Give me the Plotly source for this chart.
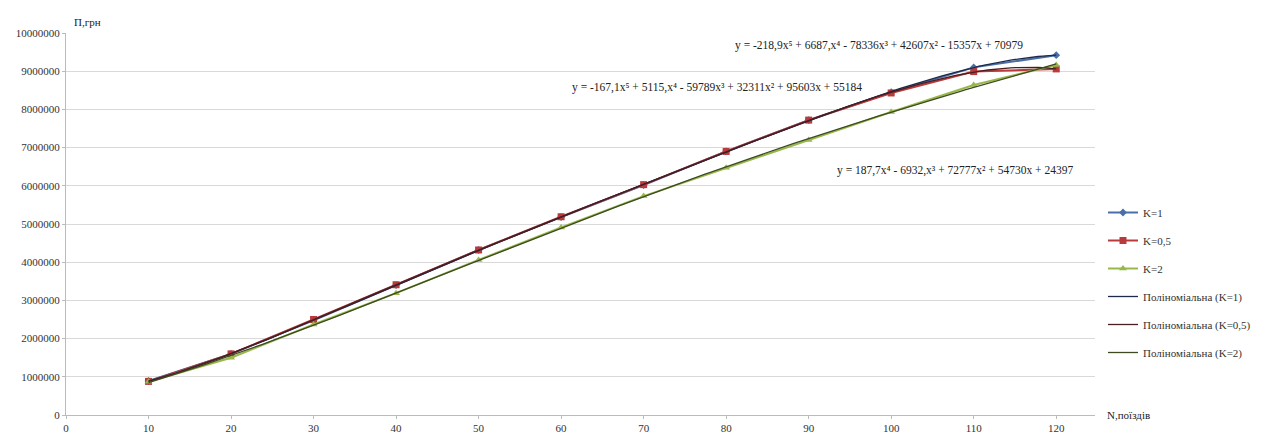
import numpy as np
import plotly.graph_objects as go

x_vals = [10, 20, 30, 40, 50, 60, 70, 80, 90, 100, 110, 120]
k1 = [890000, 1600000, 2480000, 3400000, 4320000, 5180000, 6020000, 6900000, 7720000, 8450000, 9100000, 9420000]
k05 = [880000, 1600000, 2500000, 3410000, 4320000, 5190000, 6030000, 6900000, 7720000, 8430000, 8990000, 9060000]
k2 = [870000, 1500000, 2370000, 3190000, 4060000, 4910000, 5730000, 6470000, 7200000, 7930000, 8640000, 9160000]

series_names = ["K=1", "K=0,5", "K=2"]
trend_names = ["Поліноміальна (K=1)", "Поліноміальна (K=0,5)", "Поліноміальна (K=2)"]
equations = [
    "y = -218,9x⁵ + 6687,x⁴ - 78336x³ + 42607x² - 15357x + 70979",
    "y = -167,1x⁵ + 5115,x⁴ - 59789x³ + 32311x² + 95603x + 55184",
    "y = 187,7x⁴ - 6932,x³ + 72777x² + 54730x + 24397",
]
x_ticks = [0, 10, 20, 30, 40, 50, 60, 70, 80, 90, 100, 110, 120]
y_ticks = [0, 1000000, 2000000, 3000000, 4000000, 5000000, 6000000, 7000000, 8000000, 9000000, 10000000]

colors = ["#4a6fa8", "#b83a3a", "#98b94a"]
symbols = ["diamond", "square", "triangle-up"]
msizes = [6, 7, 7]
trend_colors = ["#1e2a4a", "#4a1e1e", "#3d4a22"]
degrees = [5, 5, 4]

FONT = "Liberation Serif"
OFF = 8  # page body margin
W, H = 1280 - OFF, 436 - OFF
L, R, T, B = 66 - OFF, 1095 - OFF, 33 - OFF, 415 - OFF
fig = go.Figure()
data = [k1, k05, k2]
for i, ys in enumerate(data):
    fig.add_trace(go.Scatter(
        x=x_vals, y=ys, mode="lines+markers", name=series_names[i],
        line=dict(color=colors[i], width=2),
        marker=dict(symbol=symbols[i], size=msizes[i], color=colors[i]),
        legendgroup=f"g{i}",
    ))

xs = np.array(x_vals, dtype=float)
xf = np.linspace(10, 120, 200)
for i, ys in enumerate(data):
    t = (xs - 10) / 10 + 1
    tf = (xf - 10) / 10 + 1
    c = np.polyfit(t, np.array(ys, dtype=float), degrees[i])
    fig.add_trace(go.Scatter(
        x=xf, y=np.polyval(c, tf), mode="lines", name=trend_names[i],
        line=dict(color=trend_colors[i], width=1.3),
        legendgroup=f"t{i}",
    ))

eq_pos = [(733, 45), (570, 87), (835, 170)]
for (px, py), txt in zip(eq_pos, equations):
    fig.add_annotation(
        x=(px - OFF - L) / (R - L), y=1 - (py - OFF - T) / (B - T),
        xref="paper", yref="paper", text=txt, showarrow=False,
        xanchor="left", yanchor="middle", font=dict(family=FONT, size=11.5, color="#222"),
    )

fig.add_annotation(x=0, y=1, xref="paper", yref="paper", text="П,грн", showarrow=False,
                   xanchor="left", yanchor="bottom", xshift=6, yshift=3,
                   font=dict(family=FONT, size=11, color="#222"))
fig.add_annotation(x=1, y=0, xref="paper", yref="paper", text="N,поїздів", showarrow=False,
                   xanchor="left", yanchor="middle", xshift=10,
                   font=dict(family=FONT, size=11, color="#222"))

fig.update_layout(
    width=W, height=H,
    margin=dict(l=L, r=W - R, t=T, b=H - B, autoexpand=False),
    paper_bgcolor="white", plot_bgcolor="white",
    font=dict(family=FONT, size=11, color="#333"),
    showlegend=True,
    legend=dict(x=(1103 - OFF - L) / (R - L), y=1 - (198 - OFF - T) / (B - T), xanchor="left", yanchor="top",
                font=dict(family=FONT, size=11, color="#333"),
                tracegroupgap=9, itemwidth=30, bgcolor="rgba(0,0,0,0)"),
    xaxis=dict(range=[0, 124.7], tickvals=x_ticks, showgrid=False, zeroline=False, automargin=False,
               showline=True, linecolor="#bbbbbb", ticks="outside", ticklen=3, tickcolor="#bbbbbb"),
    yaxis=dict(range=[0, 10000000], tickvals=y_ticks, tickformat="d", automargin=False,
               showgrid=True, gridcolor="#d9d9d9", gridwidth=1, zeroline=False,
               showline=True, linecolor="#bbbbbb", ticks="outside", ticklen=3, tickcolor="#bbbbbb"),
)

fig.write_html("out.html")
